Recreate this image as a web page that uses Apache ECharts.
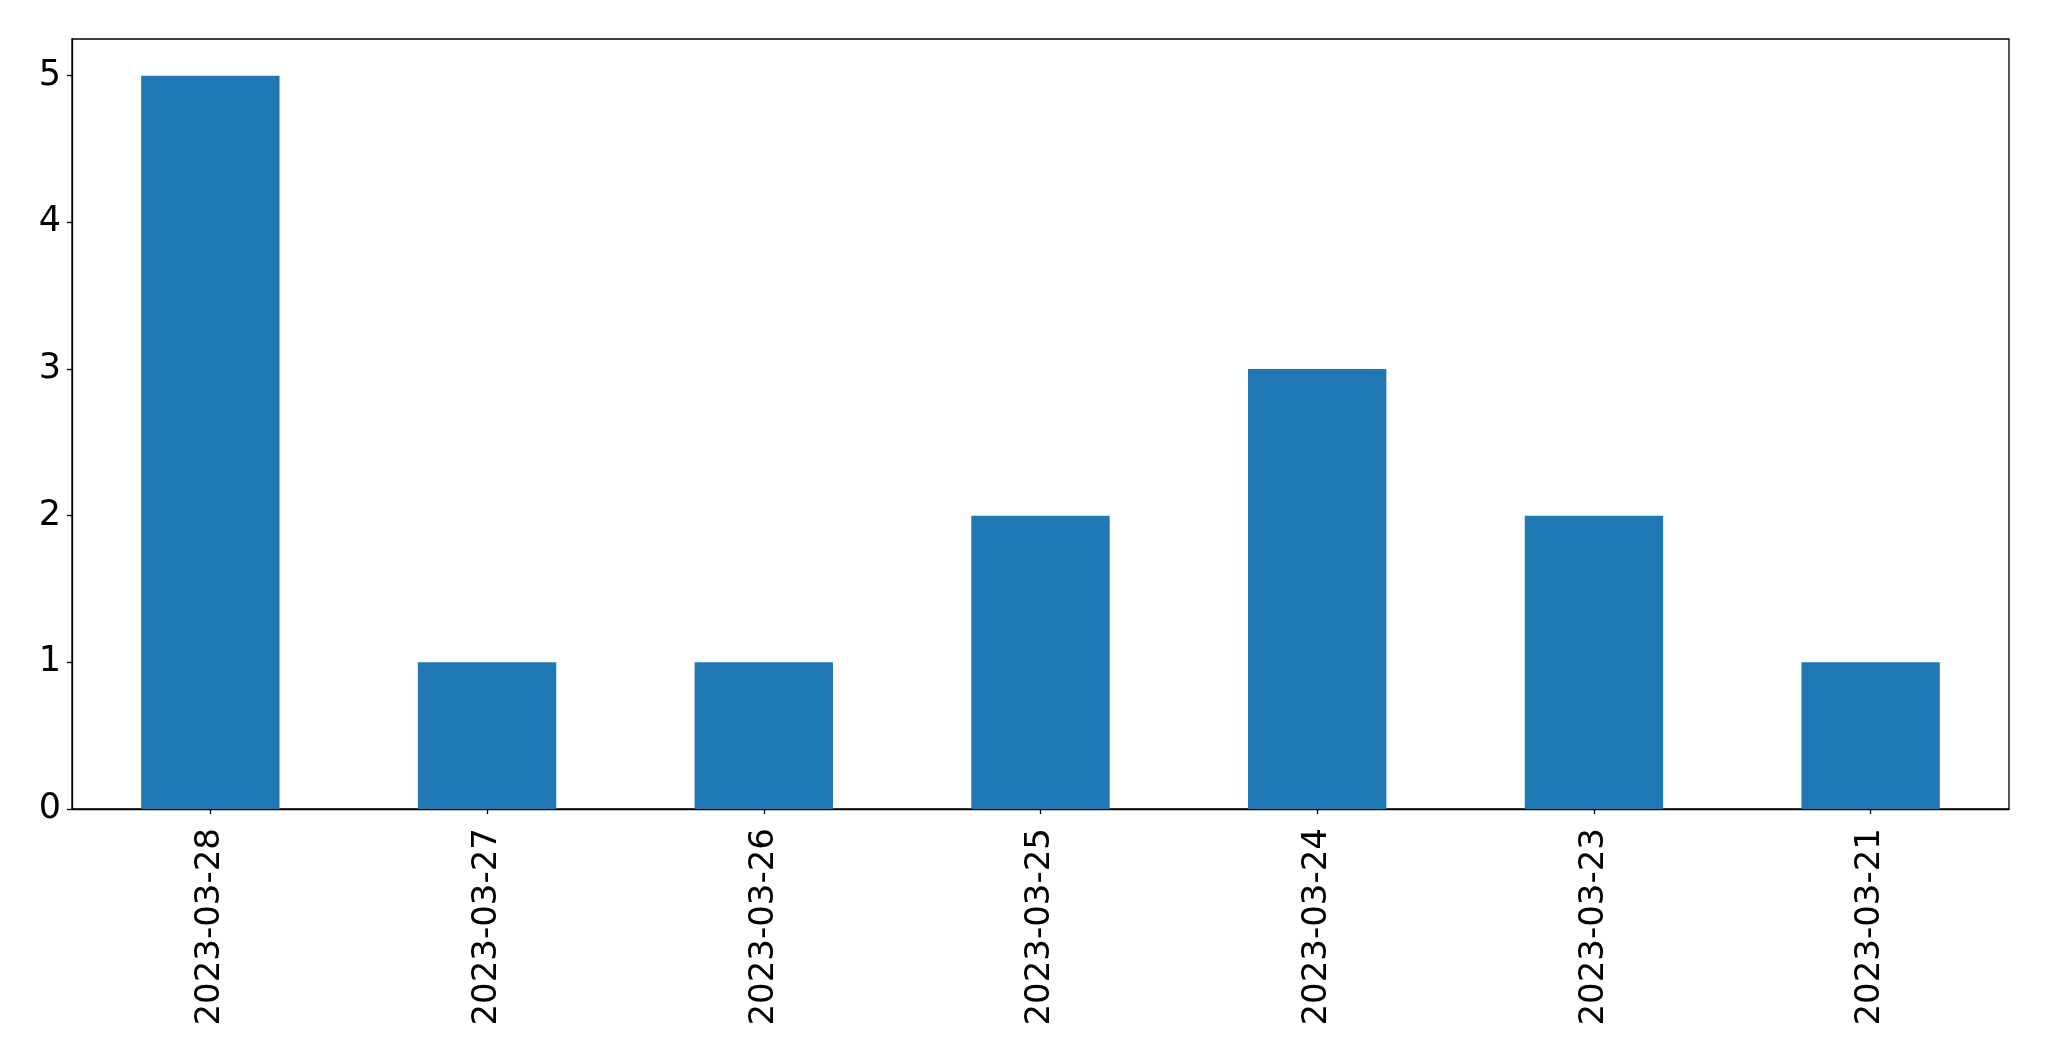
<!DOCTYPE html>
<html>
<head>
<meta charset="utf-8">
<script src="https://cdn.jsdelivr.net/npm/echarts@6/dist/echarts.min.js"></script>
<style>
html,body{margin:0;padding:0;background:#fff;}
#chart{width:2049px;height:1061px;}
</style>
</head>
<body>
<div id="chart"></div>
<script>
const categories = ["2023-03-28","2023-03-27","2023-03-26","2023-03-25","2023-03-24","2023-03-23","2023-03-21"];
const values = [5, 1, 1, 2, 3, 2, 1];
const yTicks = [0, 1, 2, 3, 4, 5];

const chart = echarts.init(document.getElementById('chart'));
const font = 'DejaVu Sans';
chart.setOption({
  animation: false,
  backgroundColor: '#ffffff',
  grid: {
    left: 72, top: 39, right: 40, bottom: 252,
    show: true, borderColor: '#000', borderWidth: 1.3, backgroundColor: 'transparent'
  },
  xAxis: {
    type: 'category',
    data: categories,
    boundaryGap: true,
    axisLine: { show: true, lineStyle: { color: '#000', width: 1.3 } },
    axisTick: { show: true, alignWithLabel: true, length: 5, lineStyle: { color: '#000', width: 1.3 } },
    axisLabel: { rotate: 90, margin: 19, fontFamily: font, fontSize: 34, color: '#000' },
    splitLine: { show: false }
  },
  yAxis: {
    type: 'value',
    min: 0, max: 5.25, interval: 1,
    axisLine: { show: true, lineStyle: { color: '#000', width: 1.3 } },
    axisTick: { show: true, length: 5, customValues: yTicks, lineStyle: { color: '#000', width: 1.3 } },
    axisLabel: { margin: 11, fontFamily: font, fontSize: 35, color: '#000', customValues: yTicks, padding: [7, 0, 0, 0] },
    splitLine: { show: false }
  },
  series: [{
    type: 'bar',
    data: values,
    barWidth: '50%',
    itemStyle: { color: '#1f77b4' }
  }]
});
</script>
</body>
</html>
